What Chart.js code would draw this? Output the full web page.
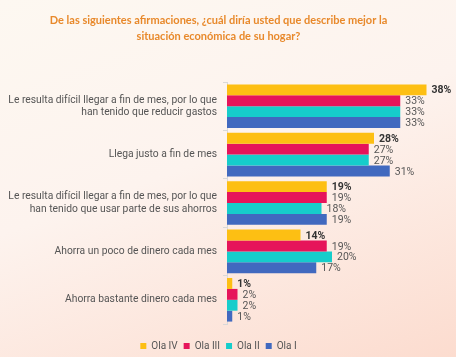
<!DOCTYPE html>
<html><head><meta charset="utf-8">
<script src="https://cdn.jsdelivr.net/npm/chart.js@4/dist/chart.umd.min.js"></script>
<style>
html,body{margin:0;padding:0;}
body{width:456px;height:357px;background:linear-gradient(160deg,#fdf8f1 0%,#fdf3ee 45%,#fcdccf 100%);}
#wrap{position:relative;width:456px;height:357px;}
</style></head>
<body><div id="wrap"><canvas id="c" width="456" height="357"></canvas></div>
<script>
const categories = [
  ["Le resulta difícil llegar a fin de mes, por lo que", "han tenido que reducir gastos"],
  "Llega justo a fin de mes",
  ["Le resulta difícil llegar a fin de mes, por lo que", "han tenido que usar parte de sus ahorros"],
  "Ahorra un poco de dinero cada mes",
  "Ahorra bastante dinero cada mes"
];
const seriesNames = ["Ola IV", "Ola III", "Ola II", "Ola I"];
const olaIV  = [38, 28, 19, 14, 1];
const olaIII = [33, 27, 19, 19, 2];
const olaII  = [33, 27, 18, 20, 2];
const olaI   = [33, 31, 19, 17, 1];
const colors = ["#FDBF13", "#E6145A", "#16CDCB", "#4169BF"];

const valueLabels = {
  id: 'valueLabels',
  afterDatasetsDraw(chart) {
    const ctx = chart.ctx;
    ctx.save();
    ctx.textBaseline = 'middle';
    ctx.textAlign = 'left';
    chart.data.datasets.forEach((ds, di) => {
      const meta = chart.getDatasetMeta(di);
      meta.data.forEach((bar, i) => {
        ctx.font = (di === 0 ? 'bold ' : '') + '10.5px Roboto, sans-serif';
        ctx.fillStyle = di === 0 ? '#333333' : '#555555';
        ctx.fillText(ds.data[i] + '%', bar.x + 5, bar.y + 1);
      });
    });
    ctx.restore();
  }
};

new Chart(document.getElementById('c'), {
  type: 'bar',
  data: {
    labels: categories,
    datasets: [
      {label: seriesNames[0], data: olaIV,  backgroundColor: colors[0]},
      {label: seriesNames[1], data: olaIII, backgroundColor: colors[1]},
      {label: seriesNames[2], data: olaII,  backgroundColor: colors[2]},
      {label: seriesNames[3], data: olaI,   backgroundColor: colors[3]}
    ]
  },
  options: {
    indexAxis: 'y',
    responsive: false,
    animation: false,
    devicePixelRatio: 1,
    layout: {padding: {left: 0, right: 19, top: 0, bottom: -4}},
    datasets: {bar: {categoryPercentage: 0.9, barPercentage: 1.0}},
    scales: {
      x: {
        display: true,
        min: 0, max: 40,
        afterFit(scale) { scale.height = 11; },
        ticks: {display: false},
        grid: {display: false},
        border: {display: false}
      },
      y: {
        afterFit(scale) { scale.width = 227; },
        grid: {display: true, drawOnChartArea: false, offset: true, tickLength: 4, color: '#d9d9d9'},
        border: {display: true, color: '#d9d9d9'},
        ticks: {
          color: '#555555',
          padding: 6,
          font: {family: 'Roboto, sans-serif', size: 10.3}
        }
      }
    },
    plugins: {
      title: {
        display: true,
        text: ["De las siguientes afirmaciones, ¿cuál diría usted que describe mejor la", "situación económica de su hogar?"],
        color: '#E8892B',
        font: {family: 'Lato, sans-serif', size: 11, weight: 'bold', lineHeight: 1.5},
        padding: {top: 12, bottom: 37}
      },
      legend: {
        position: 'bottom',
        labels: {
          boxWidth: 6, boxHeight: 6,
          padding: 6,
          color: '#555555',
          font: {family: 'Roboto, sans-serif', size: 10}
        }
      },
      tooltip: {enabled: false}
    }
  },
  plugins: [valueLabels]
});
</script></body></html>
